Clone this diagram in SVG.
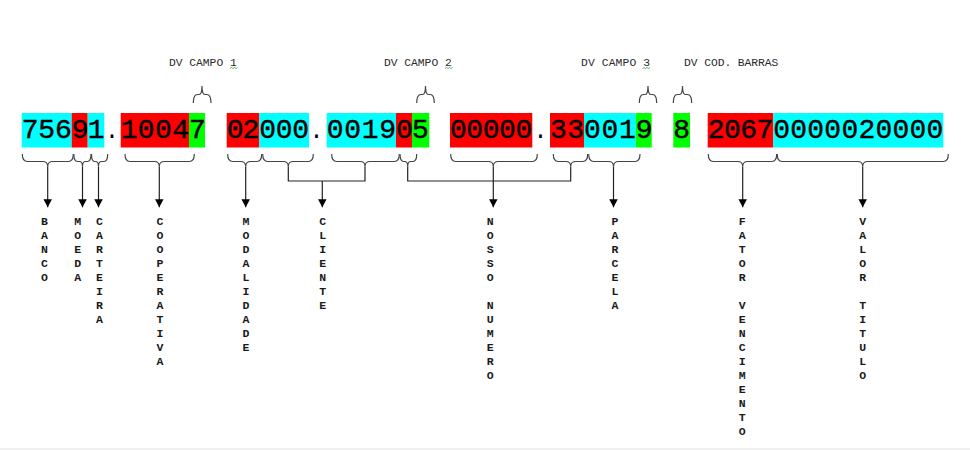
<svg xmlns="http://www.w3.org/2000/svg" width="970" height="450" viewBox="0 0 970 450">
<style>
  .dig { font-family: "Liberation Mono", "Courier New", monospace; font-weight: normal; font-size: 28px; fill: #000; stroke: #000; stroke-width: 0.4; }
  .dot { font-family: "Liberation Mono", "Courier New", monospace; font-weight: normal; font-size: 24px; fill: #000; text-anchor: middle; }
  .top { font-family: "Liberation Mono", "Courier New", monospace; font-size: 11.3px; fill: #2a2a2a; }
  .vl { font-family: "Liberation Mono", "Courier New", monospace; font-weight: bold; font-size: 11.5px; fill: #1a1a1a; text-anchor: middle; }
  .c { fill: #00ffff; }
  .r { fill: #ff0000; }
  .g { fill: #00ff00; }
  .br { fill: none; stroke: #444; stroke-width: 1.2; }
  .ln { fill: none; stroke: #222; stroke-width: 1.2; }
  .ar { fill: none; stroke: #222; stroke-width: 1.2; marker-end: url(#ah); }
  .sq { fill: none; stroke: #3aa04a; stroke-width: 0.8; }
</style>
<defs>
  <marker id="ah" markerUnits="userSpaceOnUse" markerWidth="10" markerHeight="10" refX="8" refY="4.25" orient="auto">
    <path d="M0,0 L8,4.25 L0,8.5 z" fill="#000"/>
  </marker>
</defs>
<rect x="0" y="0" width="970" height="450" fill="#fff"/>
<rect x="0" y="448" width="970" height="2" fill="#f0f0f0"/>

<g id="code">
  <rect class="c" x="21.7" y="113" width="50" height="34.5"/>
  <rect class="r" x="71.7" y="113" width="16" height="34.5"/>
  <rect class="c" x="87.7" y="113" width="16.6" height="34.5"/>
  <rect class="r" x="120.7" y="113" width="68.3" height="34.5"/>
  <rect class="g" x="189" y="113" width="16" height="34.5"/>
  <rect class="r" x="226.7" y="113" width="32.6" height="34.5"/>
  <rect class="c" x="259.3" y="113" width="49.7" height="34.5"/>
  <rect class="c" x="326.7" y="113" width="69.3" height="34.5"/>
  <rect class="r" x="396" y="113" width="16" height="34.5"/>
  <rect class="g" x="412" y="113" width="17.3" height="34.5"/>
  <rect class="r" x="450" y="113" width="82.3" height="34.5"/>
  <rect class="r" x="550" y="113" width="34" height="34.5"/>
  <rect class="c" x="584" y="113" width="51.7" height="34.5"/>
  <rect class="g" x="635.7" y="113" width="16" height="34.5"/>
  <rect class="g" x="673.3" y="113" width="16.7" height="34.5"/>
  <rect class="r" x="707.7" y="113" width="65.6" height="34.5"/>
  <rect class="c" x="773.3" y="113" width="170" height="34.5"/>

  <text class="dig" x="21.7" y="138.3" textLength="50" lengthAdjust="spacing">756</text>
  <text class="dig" x="71.7" y="138.3" textLength="16" lengthAdjust="spacing">9</text>
  <text class="dig" x="87.7" y="138.3" textLength="16.6" lengthAdjust="spacing">1</text>
  <text class="dot" x="112" y="138.3">.</text>
  <text class="dig" x="120.7" y="138.3" textLength="68.3" lengthAdjust="spacing">1004</text>
  <text class="dig" x="189" y="138.3" textLength="16" lengthAdjust="spacing">7</text>
  <text class="dig" x="226.7" y="138.3" textLength="32.6" lengthAdjust="spacing">02</text>
  <text class="dig" x="259.3" y="138.3" textLength="49.7" lengthAdjust="spacing">000</text>
  <text class="dot" x="316.5" y="138.3">.</text>
  <text class="dig" x="326.7" y="138.3" textLength="69.3" lengthAdjust="spacing">0019</text>
  <text class="dig" x="396" y="138.3" textLength="16" lengthAdjust="spacing">0</text>
  <text class="dig" x="412" y="138.3" textLength="17.3" lengthAdjust="spacing">5</text>
  <text class="dig" x="450" y="138.3" textLength="82.3" lengthAdjust="spacing">00000</text>
  <text class="dot" x="540.5" y="138.3">.</text>
  <text class="dig" x="550" y="138.3" textLength="34" lengthAdjust="spacing">33</text>
  <text class="dig" x="584" y="138.3" textLength="51.7" lengthAdjust="spacing">001</text>
  <text class="dig" x="635.7" y="138.3" textLength="16" lengthAdjust="spacing">9</text>
  <text class="dig" x="673.3" y="138.3" textLength="16.7" lengthAdjust="spacing">8</text>
  <text class="dig" x="707.7" y="138.3" textLength="65.6" lengthAdjust="spacing">2067</text>
  <text class="dig" x="773.3" y="138.3" textLength="170" lengthAdjust="spacing">0000020000</text>
</g>

<g id="dv-campo-1">
  <text class="top" x="169" y="66" textLength="67.7" lengthAdjust="spacing">DV CAMPO 1</text>
  <path class="sq" d="M230,68.5 l1.5,-1 l1.5,1 l1.5,-1 l1.5,1 l1.5,-1"/>
</g>
<g id="dv-campo-2">
  <text class="top" x="384" y="66" textLength="67.7" lengthAdjust="spacing">DV CAMPO 2</text>
  <path class="sq" d="M445,68.5 l1.5,-1 l1.5,1 l1.5,-1 l1.5,1 l1.5,-1"/>
</g>
<g id="dv-campo-3">
  <text class="top" x="581" y="66" textLength="69" lengthAdjust="spacing">DV CAMPO 3</text>
  <path class="sq" d="M642.5,68.5 l1.5,-1 l1.5,1 l1.5,-1 l1.5,1 l1.5,-1"/>
</g>
<g id="dv-cod-barras">
  <text class="top" x="684" y="66" textLength="94.3" lengthAdjust="spacing">DV COD. BARRAS</text>
</g>

<g id="connectors">
  <path class="br" d="M193.3,103 Q193.3,94.5 197.5,94.5 L199,94.5 Q202,94.5 202,86 Q202,94.5 205,94.5 L206.8,94.5 Q211,94.5 211,103"/>
  <path class="br" d="M416.7,103 Q416.7,94.5 421,94.5 L422.5,94.5 Q425.5,94.5 425.5,86 Q425.5,94.5 428.5,94.5 L430,94.5 Q434.3,94.5 434.3,103"/>
  <path class="br" d="M639.3,103 Q639.3,94.5 643.5,94.5 L645,94.5 Q648,94.5 648,86 Q648,94.5 651,94.5 L652.5,94.5 Q656.7,94.5 656.7,103"/>
  <path class="br" d="M673.3,103 Q673.3,94.5 677.5,94.5 L679.5,94.5 Q682.5,94.5 682.5,86 Q682.5,94.5 685.5,94.5 L687.5,94.5 Q691.7,94.5 691.7,103"/>

  <path class="br" d="M22.3,154 Q22.3,161.5 27.5,161.5 L42.7,161.5 Q47.7,161.5 47.7,166.5 Q47.7,161.5 52.7,161.5 L68.3,161.5 Q73.3,161.5 73.3,154"/>
  <path class="br" d="M73.8,154 Q73.8,161.5 77.5,161.5 L79.5,161.5 Q82.5,161.5 82.5,166.5 Q82.5,161.5 85.5,161.5 L87.5,161.5 Q91,161.5 91,154"/>
  <path class="br" d="M91.5,154 Q91.5,161.5 94.5,161.5 L95.5,161.5 Q98.5,161.5 98.5,166.5 Q98.5,161.5 101.5,161.5 L104,161.5 Q107.7,161.5 107.7,154"/>
  <path class="br" d="M125,154 Q125,161.5 130,161.5 L154.3,161.5 Q159.3,161.5 159.3,166.5 Q159.3,161.5 164.3,161.5 L189.3,161.5 Q194.3,161.5 194.3,154"/>
  <path class="br" d="M227.7,154 Q227.7,161.5 232.7,161.5 L240.7,161.5 Q245.7,161.5 245.7,166.5 Q245.7,161.5 250.7,161.5 L256.7,161.5 Q261.7,161.5 261.7,154"/>
  <path class="br" d="M262.7,154 Q262.7,161.5 267.7,161.5 L283.3,161.5 Q288.3,161.5 288.3,166.5 Q288.3,161.5 293.3,161.5 L308.3,161.5 Q313.3,161.5 313.3,154"/>
  <path class="br" d="M331.7,154 Q331.7,161.5 336.7,161.5 L360,161.5 Q365,161.5 365,166.5 Q365,161.5 370,161.5 L394.3,161.5 Q399.3,161.5 399.3,154"/>
  <path class="br" d="M400,154 Q400,161.5 403.7,161.5 L404.7,161.5 Q407.7,161.5 407.7,166.5 Q407.7,161.5 410.7,161.5 L413,161.5 Q416.7,161.5 416.7,154"/>
  <path class="br" d="M450.7,154 Q450.7,161.5 455.7,161.5 L488.3,161.5 Q493.3,161.5 493.3,166.5 Q493.3,161.5 498.3,161.5 L532.3,161.5 Q537.3,161.5 537.3,154"/>
  <path class="br" d="M553.3,154 Q553.3,161.5 558.3,161.5 L565.7,161.5 Q570.7,161.5 570.7,166.5 Q570.7,161.5 575.7,161.5 L582.7,161.5 Q587.7,161.5 587.7,154"/>
  <path class="br" d="M588.7,154 Q588.7,161.5 593.7,161.5 L608.5,161.5 Q613.5,161.5 613.5,166.5 Q613.5,161.5 618.5,161.5 L635,161.5 Q640,161.5 640,154"/>
  <path class="br" d="M708.3,154 Q708.3,161.5 713.3,161.5 L737.7,161.5 Q742.7,161.5 742.7,166.5 Q742.7,161.5 747.7,161.5 L771.7,161.5 Q776.7,161.5 776.7,154"/>
  <path class="br" d="M777.2,154 Q777.2,161.5 782.2,161.5 L857.7,161.5 Q862.7,161.5 862.7,166.5 Q862.7,161.5 867.7,161.5 L943.3,161.5 Q948.3,161.5 948.3,154"/>

  <path class="ln" d="M288.3,166.5 V181 H365 V166.5"/>
  <path class="ln" d="M407.7,166.5 V181 H570.7 V166.5"/>

  <path class="ar" d="M47.7,166.5 V207.3"/>
  <path class="ar" d="M82.5,166.5 V207.3"/>
  <path class="ar" d="M98.5,166.5 V207.3"/>
  <path class="ar" d="M159.3,166.5 V207.3"/>
  <path class="ar" d="M245.7,166.5 V207.3"/>
  <path class="ar" d="M322.3,181 V207.3"/>
  <path class="ar" d="M493.3,166.5 V207.3"/>
  <path class="ar" d="M613.5,166.5 V207.3"/>
  <path class="ar" d="M742.7,166.5 V207.3"/>
  <path class="ar" d="M862.7,166.5 V207.3"/>
</g>

<g id="banco"><text class="vl" y="224.5"><tspan x="44.5">B</tspan><tspan x="44.5" dy="14">A</tspan><tspan x="44.5" dy="14">N</tspan><tspan x="44.5" dy="14">C</tspan><tspan x="44.5" dy="14">O</tspan></text></g>
<g id="moeda"><text class="vl" y="224.5"><tspan x="77.6">M</tspan><tspan x="77.6" dy="14">O</tspan><tspan x="77.6" dy="14">E</tspan><tspan x="77.6" dy="14">D</tspan><tspan x="77.6" dy="14">A</tspan></text></g>
<g id="carteira"><text class="vl" y="224.5"><tspan x="99.5">C</tspan><tspan x="99.5" dy="14">A</tspan><tspan x="99.5" dy="14">R</tspan><tspan x="99.5" dy="14">T</tspan><tspan x="99.5" dy="14">E</tspan><tspan x="99.5" dy="14">I</tspan><tspan x="99.5" dy="14">R</tspan><tspan x="99.5" dy="14">A</tspan></text></g>
<g id="cooperativa"><text class="vl" y="224.5"><tspan x="160">C</tspan><tspan x="160" dy="14">O</tspan><tspan x="160" dy="14">O</tspan><tspan x="160" dy="14">P</tspan><tspan x="160" dy="14">E</tspan><tspan x="160" dy="14">R</tspan><tspan x="160" dy="14">A</tspan><tspan x="160" dy="14">T</tspan><tspan x="160" dy="14">I</tspan><tspan x="160" dy="14">V</tspan><tspan x="160" dy="14">A</tspan></text></g>
<g id="modalidade"><text class="vl" y="224.5"><tspan x="246">M</tspan><tspan x="246" dy="14">O</tspan><tspan x="246" dy="14">D</tspan><tspan x="246" dy="14">A</tspan><tspan x="246" dy="14">L</tspan><tspan x="246" dy="14">I</tspan><tspan x="246" dy="14">D</tspan><tspan x="246" dy="14">A</tspan><tspan x="246" dy="14">D</tspan><tspan x="246" dy="14">E</tspan></text></g>
<g id="cliente"><text class="vl" y="224.5"><tspan x="322.7">C</tspan><tspan x="322.7" dy="14">L</tspan><tspan x="322.7" dy="14">I</tspan><tspan x="322.7" dy="14">E</tspan><tspan x="322.7" dy="14">N</tspan><tspan x="322.7" dy="14">T</tspan><tspan x="322.7" dy="14">E</tspan></text></g>
<g id="nosso-numero"><text class="vl" y="224.5"><tspan x="490.3">N</tspan><tspan x="490.3" dy="14">O</tspan><tspan x="490.3" dy="14">S</tspan><tspan x="490.3" dy="14">S</tspan><tspan x="490.3" dy="14">O</tspan><tspan x="490.3" dy="28">N</tspan><tspan x="490.3" dy="14">U</tspan><tspan x="490.3" dy="14">M</tspan><tspan x="490.3" dy="14">E</tspan><tspan x="490.3" dy="14">R</tspan><tspan x="490.3" dy="14">O</tspan></text></g>
<g id="parcela"><text class="vl" y="224.5"><tspan x="615">P</tspan><tspan x="615" dy="14">A</tspan><tspan x="615" dy="14">R</tspan><tspan x="615" dy="14">C</tspan><tspan x="615" dy="14">E</tspan><tspan x="615" dy="14">L</tspan><tspan x="615" dy="14">A</tspan></text></g>
<g id="fator-vencimento"><text class="vl" y="224.5"><tspan x="742.3">F</tspan><tspan x="742.3" dy="14">A</tspan><tspan x="742.3" dy="14">T</tspan><tspan x="742.3" dy="14">O</tspan><tspan x="742.3" dy="14">R</tspan><tspan x="742.3" dy="28">V</tspan><tspan x="742.3" dy="14">E</tspan><tspan x="742.3" dy="14">N</tspan><tspan x="742.3" dy="14">C</tspan><tspan x="742.3" dy="14">I</tspan><tspan x="742.3" dy="14">M</tspan><tspan x="742.3" dy="14">E</tspan><tspan x="742.3" dy="14">N</tspan><tspan x="742.3" dy="14">T</tspan><tspan x="742.3" dy="14">O</tspan></text></g>
<g id="valor-titulo"><text class="vl" y="224.5"><tspan x="862.7">V</tspan><tspan x="862.7" dy="14">A</tspan><tspan x="862.7" dy="14">L</tspan><tspan x="862.7" dy="14">O</tspan><tspan x="862.7" dy="14">R</tspan><tspan x="862.7" dy="28">T</tspan><tspan x="862.7" dy="14">I</tspan><tspan x="862.7" dy="14">T</tspan><tspan x="862.7" dy="14">U</tspan><tspan x="862.7" dy="14">L</tspan><tspan x="862.7" dy="14">O</tspan></text></g>
</svg>
